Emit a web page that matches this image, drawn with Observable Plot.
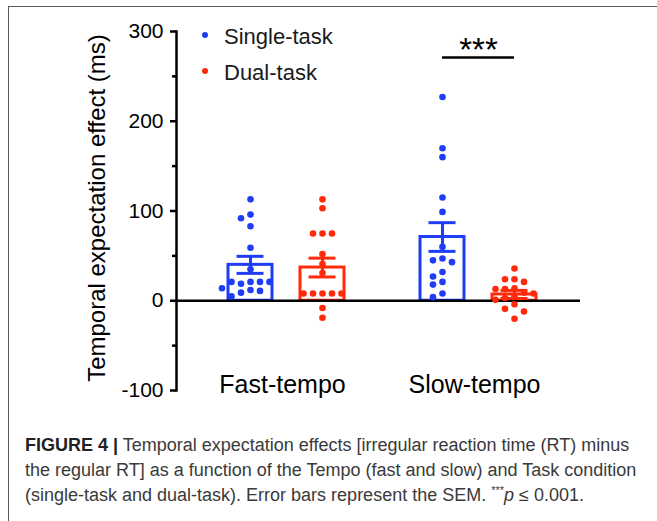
<!DOCTYPE html>
<html><head><meta charset="utf-8">
<script src="https://cdn.jsdelivr.net/npm/d3@7"></script>
<script src="https://cdn.jsdelivr.net/npm/@observablehq/plot@0.6"></script>
<style>
html,body{margin:0;padding:0;background:#fff;}
#wrap{position:relative;width:657px;height:521px;overflow:hidden;font-family:"Liberation Sans",Arial,sans-serif;}
#frame{position:absolute;left:8px;top:6px;width:700px;height:600px;border-left:1.5px solid #5a5a5a;border-top:1.5px solid #5a5a5a;}
#chart{position:absolute;left:0;top:0;}
.legdot{position:absolute;width:6px;height:6px;border-radius:50%;}
.legtxt{position:absolute;font-size:22px;line-height:22px;color:#1a1a1a;white-space:nowrap;}
#caption{position:absolute;left:25px;top:433px;font-size:18px;line-height:25px;color:#3a3a3a;white-space:nowrap;}
#caption b{color:#222;}
#caption sup{font-size:11px;line-height:0;vertical-align:0;position:relative;top:-7px;}
</style></head>
<body>
<div id="wrap">
  <div id="frame"></div>
  <div id="chart"></div>
  <div id="legend"></div>
  <div id="caption"><b>FIGURE 4 |</b> Temporal expectation effects [irregular reaction time (RT) minus<br>the regular RT] as a function of the Tempo (fast and slow) and Task condition<br>(single-task and dual-task). Error bars represent the SEM. <sup>***</sup><i>p</i> ≤ 0.001.</div>
</div>
<script>
// ---- data ----
const tempos = ["Fast-tempo", "Slow-tempo"];
const tasks = ["Single-task", "Dual-task"];
const taskColors = ["#1f3df5", "#ff2a0a"];
const meanSingle = [40, 71];
const semSingle = [9.5, 16];
const meanDual = [37, 7];
const semDual = [10.5, 4.5];
const fastSingle = [113, 96, 92, 83, 59, 35, 21, 19, 21, 21, 21, 14, 12, 11, 9, 5];
const fastDual = [113, 103, 75, 75, 75, 52, 41, 31, 8, 8, 8, 8, 8, -8, -19];
const slowSingle = [227, 170, 160, 115, 99, 60, 47, 45, 43, 32, 27, 21, 18, 8, 4];
const slowDual = [36, 24, 24, 21, 14, 13, 13, 9, 8, 5, 3, 1, -4, -9, -12, -20];
const yTicks = [-100, 0, 100, 200, 300];
const yMinor = [-50, 50, 150, 250];
const yTitle = "Temporal expectation effect (ms)";
const sigTempo = ["Slow-tempo"];
const sigY = [271];
const sigLabel = ["***"];

// ---- build ----
const color = Object.fromEntries(tasks.map((t, i) => [t, taskColors[i]]));
const taskDx = {"Single-task": -36, "Dual-task": 36};
const seriesByTask = [[fastSingle, slowSingle], [fastDual, slowDual]];
const meansByTask = [meanSingle, meanDual];
const semsByTask = [semSingle, semDual];

const pxPerUnit = 359 / 400;
function swarm(values, step = 9.5, minDist = 8) {
  const placed = [];
  return values.map(v => {
    const py = v * pxPerUnit;
    for (let k = 0; k < 50; k++) {
      const cands = k === 0 ? [0] : [-k * step, k * step];
      for (const c of cands) {
        if (placed.every(p => Math.hypot(p.x - c, p.y - py) >= minDist)) {
          placed.push({x: c, y: py});
          return c;
        }
      }
    }
    return 0;
  });
}

const records = [];
const summary = [];
tasks.forEach((task, ti) => tempos.forEach((tempo, gi) => {
  const vals = seriesByTask[ti][gi];
  const offs = swarm(vals);
  vals.forEach((v, k) => records.push({tempo, task, value: v, off: offs[k]}));
  summary.push({tempo, task, mean: meansByTask[ti][gi], sem: semsByTask[ti][gi]});
}));
const sig = sigTempo.map((t, i) => ({tempo: t, y: sigY[i], label: sigLabel[i]}));

const marks = [];
for (const task of tasks) {
  const s = summary.filter(d => d.task === task);
  marks.push(Plot.barY(s, {x: "tempo", y: "mean", fill: "white", stroke: color[task], strokeWidth: 3, dx: taskDx[task]}));
}
marks.push(Plot.ruleY([0], {stroke: "black", strokeWidth: 2.5}));
for (const task of tasks) {
  for (const [off, rows] of d3.groups(records.filter(d => d.task === task), d => d.off)) {
    marks.push(Plot.dot(rows, {x: "tempo", y: "value", r: 3.3, fill: color[task], stroke: "none", dx: taskDx[task] + off}));
  }
}
for (const task of tasks) {
  const s = summary.filter(d => d.task === task);
  const o = {x: "tempo", stroke: color[task], strokeWidth: 3, dx: taskDx[task]};
  marks.push(Plot.ruleX(s, {...o, y1: d => d.mean - d.sem, y2: d => d.mean + d.sem}));
  marks.push(Plot.tickY(s, {...o, y: d => d.mean + d.sem, insetLeft: 8.5, insetRight: 8.5}));
  marks.push(Plot.tickY(s, {...o, y: d => d.mean - d.sem, insetLeft: 8.5, insetRight: 8.5}));
}
marks.push(Plot.axisY({ticks: yTicks, tickSize: 6, tickPadding: 7, fontSize: 21, strokeWidth: 2.5, label: null, fill: "black", tickFormat: d => String(d)}));
marks.push(Plot.axisY({ticks: yMinor, tickSize: 4, tickFormat: () => "", strokeWidth: 2.5, label: null}));
marks.push(Plot.frame({anchor: "left", strokeWidth: 2.5}));
marks.push(Plot.axisX({tickSize: 0, tickPadding: 0, dy: -15, dx: -4, fontSize: 25, label: null, fill: "black"}));
marks.push(Plot.text([yTitle], {frameAnchor: "left", textAnchor: "middle", lineAnchor: "middle", rotate: -90, dx: -79, dy: -3, fontSize: 24, fill: "black"}));
marks.push(Plot.tickY(sig, {x: "tempo", y: "y", insetLeft: -14, insetRight: -14, strokeWidth: 2.5, stroke: "black"}));
marks.push(Plot.text(sig, {x: "tempo", y: "y", text: "label", fontSize: 33, lineAnchor: "bottom", dy: 3}));

const chart = Plot.plot({
  width: 657, height: 410,
  marginLeft: 176, marginRight: 77, marginTop: 31, marginBottom: 20,
  x: {type: "band", domain: tempos, paddingInner: 0.7714, paddingOuter: 0.435, align: 0.5224},
  y: {domain: [-100, 300]},
  style: {fontFamily: "'Liberation Sans', Arial, sans-serif", background: "transparent", overflow: "visible", color: "black"},
  marks
});
document.getElementById("chart").appendChild(chart);

// legend
const leg = document.getElementById("legend");
const legTop = [26, 62];
tasks.forEach((t, i) => {
  const dot = document.createElement("span");
  dot.className = "legdot";
  dot.style.background = color[t];
  dot.style.left = "202px";
  dot.style.top = (legTop[i] + 6) + "px";
  leg.appendChild(dot);
  const tx = document.createElement("span");
  tx.className = "legtxt";
  tx.textContent = t;
  tx.style.left = "224px";
  tx.style.top = legTop[i] + "px";
  leg.appendChild(tx);
});
</script>
</body></html>
